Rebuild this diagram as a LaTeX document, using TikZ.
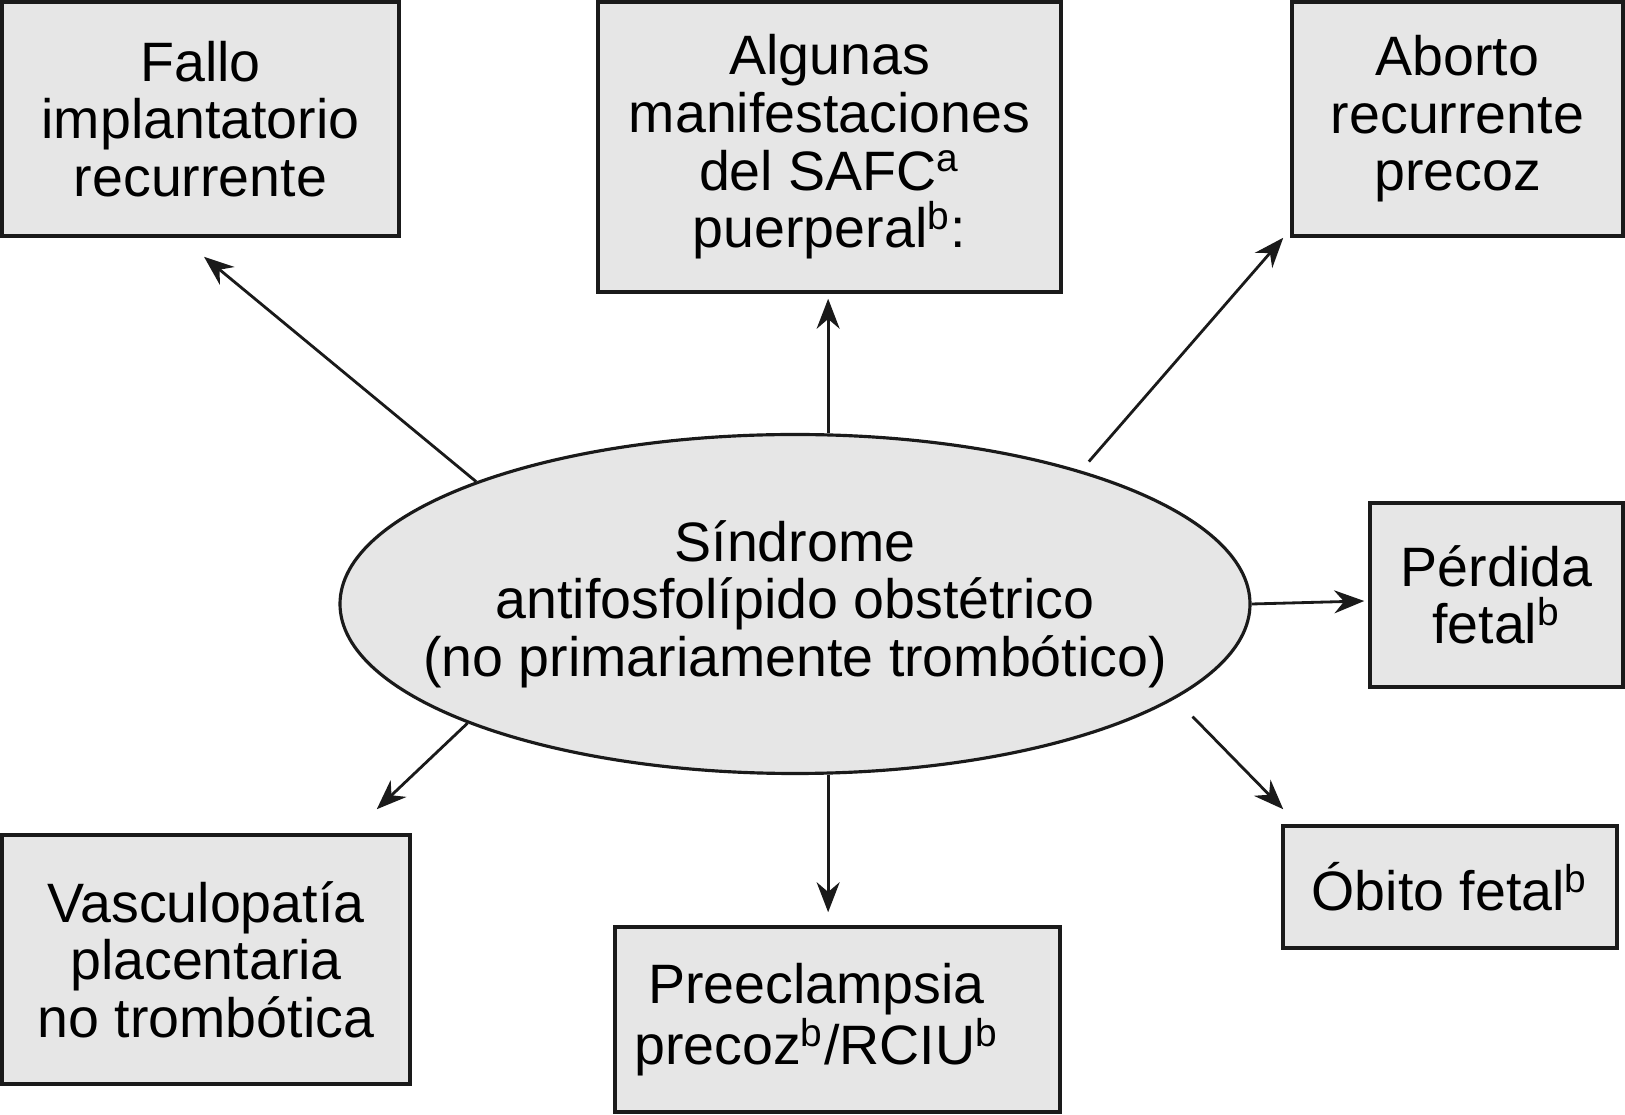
\documentclass[tikz,border=0pt]{standalone}
\usepackage{fontspec}
\setmainfont{Liberation Sans}
\usetikzlibrary{arrows.meta,positioning,calc,shapes.geometric}
\definecolor{SapGray}{HTML}{E6E6E6}
\definecolor{SapBlack}{HTML}{1A1A1A}

\begin{document}
\begin{tikzpicture}[font=\fontsize{15.8}{16.4}\selectfont,
  box/.style={draw=SapBlack,line width=1pt,fill=SapGray,align=center,inner sep=0pt},
  arr/.style={-{Stealth[length=3mm,width=2.3mm]},SapBlack,line width=0.8pt}]
  \useasboundingbox (0,0) rectangle (16.25,11.14);
  % elipse central
  \node[ellipse,draw=SapBlack,line width=0.9pt,fill=SapGray,minimum width=9.1cm,minimum height=3.39cm,
    inner xsep=-0.6cm,inner ysep=0pt,align=center] (sap) at (7.95,5.10)
    {Síndrome\\antifosfolípido obstétrico\\(no primariamente trombótico)};
  % cajas de arriba
  \node[box,minimum width=3.97cm,minimum height=2.34cm] (fallo) at (2.005,9.95)
    {Fallo\\implantatorio\\recurrente};
  \node[box,minimum width=4.63cm,minimum height=2.90cm] (alg) at (8.295,9.67)
    {Algunas\\manifestaciones\\del SAFC\textsuperscript{a}\\puerperal\textsuperscript{b}:};
  \node[box,minimum width=3.31cm,minimum height=2.34cm] (abort) at (14.575,9.95)
    {Aborto\\recurrente\\precoz};
  % cajas de la derecha
  \node[box,minimum width=2.53cm,minimum height=1.84cm] (perd) at (14.965,5.19)
    {Pérdida\\fetal\textsuperscript{b}};
  \node[box,minimum width=3.34cm,minimum height=1.22cm] (obito) at (14.50,2.27)
    {Óbito fetal\textsuperscript{b}};
  % cajas de abajo
  \node[box,minimum width=4.45cm,minimum height=1.85cm] (pree) at (8.375,0.945)
    {Preeclampsia\hspace*{0.42cm}\\precoz\textsuperscript{b}/RCIU\textsuperscript{b}\hspace*{0.42cm}};
  \node[box,minimum width=4.08cm,minimum height=2.49cm] (vasc) at (2.06,1.545)
    {Vasculopatía\\placentaria\\no trombótica};
  % flechas
  \draw[arr] (sap.159) -- ($(fallo.south)+(0.035,-0.19)$);
  \draw[arr,shorten >=0.5mm] (sap.79) -- (sap.79 |- alg.south);
  \draw[arr,shorten <=1.2mm] (sap.25) -- ($(abort.south west)+(-0.07,0)$);
  \draw[arr] (sap.east) -- ($(perd.west)+(-0.04,-0.06)$);
  \draw[arr,shorten <=2.5mm] (sap.-14) -- ($(obito.north west)+(0.02,0.15)$);
  \draw[arr,shorten >=1.3mm] (sap.-79) -- (sap.-79 |- pree.north);
  \draw[arr] (sap.200) -- ($(vasc.north east)+(-0.35,0.24)$);
\end{tikzpicture}
\end{document}
